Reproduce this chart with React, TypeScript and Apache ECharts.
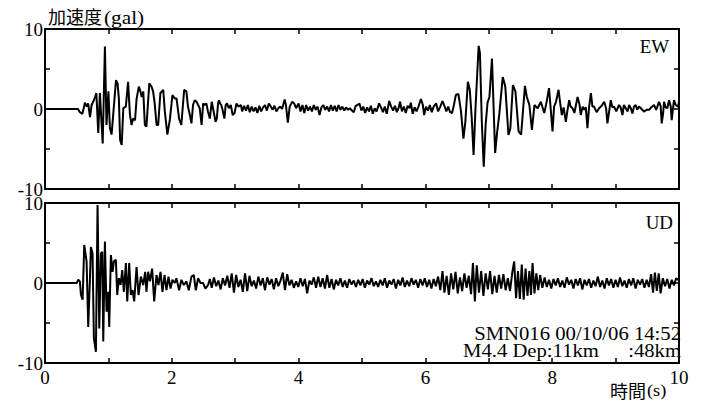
import { useEffect, useRef } from "react";
import * as echarts from "echarts";

// EW component: [time (s), acceleration (gal)]
const ewData: [number, number][] = [
  [0, 0], [0.52, 0],
  [0.55, -0.4], [0.59, -0.6], [0.63, 0.8], [0.66, 0.3], [0.68, 0.7], [0.71, -1.0], [0.735, 0.5], [0.76, 0.9],
  [0.79, 1.5], [0.81, 2.0], [0.84, -3.0], [0.866, 2.0], [0.89, -1.5], [0.91, -4.3], [0.945, 7.8], [0.97, -2.0],
  [1.0, 2.2], [1.024, -2.4], [1.05, -3.2], [1.08, -0.3], [1.12, 3.6], [1.145, 3.2], [1.165, 1.3], [1.185, -3.9],
  [1.21, -4.5], [1.235, 0.1], [1.275, 0.3], [1.31, 3.4], [1.34, -0.7], [1.365, -2.0], [1.39, -1.2], [1.42, -1.4],
  [1.445, 1.3], [1.48, 2.8], [1.505, 2.2], [1.525, 1.5], [1.55, 2.2], [1.575, -2.0], [1.6, -2.2], [1.645, 3.2],
  [1.68, 2.8], [1.705, 2.2], [1.73, 0.7], [1.76, -2.0], [1.785, -2.0], [1.82, 2.0], [1.865, 2.4], [1.89, -0.3],
  [1.93, -3.2], [1.97, -1.3], [2.01, 1.75], [2.045, 1.3], [2.075, 1.3], [2.115, -1.2], [2.15, -2.0], [2.195, 2.4],
  [2.23, 2.2], [2.255, 0.3], [2.285, -0.75], [2.31, -1.8], [2.335, 0.5], [2.36, 1.1], [2.39, 0.9], [2.415, 0.5],
  [2.44, 0.1], [2.47, -2.0], [2.495, 0.7], [2.52, 0.5], [2.545, 0.7], [2.57, -0.3],
  [2.6, -1.2], [2.63, 0.9], [2.66, -0.3], [2.69, -1.6], [2.71, -1.2], [2.73, 0.7], [2.745, 1.1], [2.76, 0.7],
  [2.78, 0.5], [2.8, -0.1], [2.83, -1.2], [2.85, 0.5], [2.87, 0.7], [2.9, 0.1], [2.93, 0.5], [2.96, -0.75],
  [2.99, -0.5], [3.02, 0.7], [3.05, 0.3], [3.09, 0.5], [3.11, -0.3], [3.14, 0.4], [3.17, -0.2], [3.2, 0.5],
  [3.23, -0.4], [3.26, 0.3], [3.29, -0.3], [3.32, 0.2], [3.35, -0.5], [3.38, 0.4], [3.41, -0.3], [3.44, 0.2],
  [3.47, 0.5], [3.5, -0.2], [3.53, 0.7], [3.56, 0.3], [3.59, -0.1], [3.62, 0.4], [3.65, -0.3], [3.68, 0.1],
  [3.71, 0.3], [3.74, 0.0], [3.78, 1.2], [3.8, 0.5], [3.83, -1.7], [3.86, 0.3], [3.9, 0.9], [3.93, 0.7],
  [3.96, 0.1], [4.0, 0.7], [4.03, -0.3], [4.06, 0.5], [4.09, -0.5], [4.12, 0.5], [4.15, -0.2], [4.18, 0.3],
  [4.21, -0.3], [4.24, 0.5], [4.27, -0.1], [4.3, 0.3], [4.33, -0.75], [4.36, 0.2], [4.39, 0.5], [4.42, -0.1],
  [4.45, 0.3], [4.48, -0.3], [4.51, 0.5], [4.54, -0.2], [4.57, 0.4], [4.6, -0.3], [4.63, 0.5], [4.66, -0.1],
  [4.69, 0.3], [4.72, -0.2], [4.75, 0.2], [4.78, -0.1], [4.81, 0.1], [4.84, -0.2], [4.87, -0.4], [4.9, 0.4],
  [4.93, 0.5], [4.96, 0.7], [4.99, -0.2], [5.02, 0.3], [5.05, -0.5], [5.08, 0.2], [5.11, -0.3], [5.14, 0.4],
  [5.17, -0.6], [5.2, 0.1], [5.23, -0.3], [5.27, 0.7], [5.3, 0.2], [5.33, -0.4], [5.36, 0.3], [5.39, -0.6],
  [5.43, 1.0], [5.46, 0.3], [5.49, -0.2], [5.52, 0.4], [5.55, -0.4], [5.58, 0.2], [5.6, 0.9], [5.63, -0.3],
  [5.66, 0.3], [5.69, -0.5], [5.72, 0.4], [5.75, 0.1], [5.77, 0.8], [5.8, -0.6], [5.83, 0.2], [5.86, -0.3],
  [5.89, 0.3], [5.93, 1.25], [5.96, 0.5], [5.98, -0.75], [6.01, 0.3], [6.04, -0.2], [6.07, 0.5], [6.1, -0.4],
  [6.13, 0.3], [6.17, 0.7], [6.2, -0.3], [6.23, 0.2], [6.27, 1.0], [6.3, 0.4], [6.33, -0.3], [6.36, 0.3],
  [6.39, -0.4], [6.42, -0.5],
  [6.45, 0.5], [6.48, 1.75], [6.52, 1.9], [6.56, -0.2], [6.6, -3.7], [6.63, -1.6], [6.67, 3.4], [6.7, 2.4],
  [6.73, -1.0], [6.76, -5.75], [6.79, 0.1], [6.84, 7.9], [6.86, 7.0], [6.89, -1.6], [6.92, -7.2], [6.95, -2.0],
  [6.98, 0.8], [7.01, 1.5], [7.05, 6.3], [7.1, -5.5], [7.13, -3.0], [7.165, -0.7], [7.22, 4.0], [7.26, 2.8],
  [7.31, -3.25], [7.34, -2.4], [7.38, 3.0], [7.42, 2.2], [7.47, -2.8], [7.51, -3.2], [7.57, 2.9], [7.6, 1.5],
  [7.64, 0.5], [7.68, -2.6], [7.72, 0.5], [7.77, 0.1], [7.82, 0.9], [7.875, -0.5], [7.91, 0.8], [7.95, 2.6],
  [8.005, -2.8], [8.03, 0.3], [8.06, 0.9], [8.1, 2.4], [8.13, 0.5], [8.152, -0.75], [8.18, 0.2], [8.215, -1.6],
  [8.24, -0.2], [8.268, 1.1], [8.29, 0.3], [8.32, 0.1], [8.35, -0.5], [8.4, 1.5], [8.43, 0.6], [8.45, -0.75],
  [8.48, 0.3], [8.504, -0.1], [8.53, 0.2], [8.556, -2.4], [8.58, 0.1], [8.61, 2.0], [8.635, 0.3], [8.66, 0.3],
  [8.7, -0.4], [8.74, 0.1], [8.78, 0.4], [8.82, 0.9], [8.85, 0.1], [8.871, -1.8], [8.9, -0.2], [8.924, 1.1],
  [8.95, 0.2], [8.976, 0.3], [9.01, -0.3], [9.055, 0.5], [9.08, 0.2], [9.108, -0.75], [9.13, 0.5], [9.16, 0.1],
  [9.19, -0.3], [9.213, 0.5], [9.24, 0.1], [9.265, -0.55], [9.29, 0.3], [9.318, 0.5], [9.34, -0.1], [9.37, 0.3],
  [9.41, 0.0], [9.449, -0.33], [9.49, -0.1], [9.528, -0.1], [9.56, 0.2], [9.606, 0.5], [9.64, -0.1], [9.685, 0.9],
  [9.71, 0.4], [9.727, -1.8], [9.75, -0.5], [9.764, 0.9], [9.79, 0.2], [9.816, 0.1], [9.843, 1.1], [9.87, 0.3],
  [9.885, -1.4], [9.9, -0.3], [9.921, 1.1], [9.948, 0.5], [9.984, 0.3], [10, 0.9],
];

// UD component: [time (s), acceleration (gal)]
const udData: [number, number][] = [
  [0, 0], [0.5, 0], [0.525, 0.4], [0.55, 0.2], [0.567, -1.5], [0.593, -2.1], [0.619, 4.75], [0.656, 2.7],
  [0.682, -5.5], [0.709, 0.6], [0.724, 4.5], [0.75, 3.7], [0.771, -6.9], [0.803, -8.6], [0.829, 9.75], [0.856, -5.7],
  [0.882, 3.7], [0.903, 3.9], [0.919, -7.3], [0.945, 5.2], [0.971, -3.6], [0.997, -1.1], [1.013, -5.5], [1.039, 3.5],
  [1.066, 1.4], [1.087, 2.7], [1.118, 2.9], [1.139, -1.5], [1.165, 0.6], [1.192, -0.25], [1.218, 1.6], [1.244, -1.1],
  [1.276, 2.5], [1.297, -2.3], [1.328, 2.5], [1.354, -1.5], [1.381, -0.9], [1.407, -2.3], [1.444, 2.0], [1.475, -1.5],
  [1.512, 0.8], [1.549, -0.25], [1.58, 1.4], [1.6, -1.1], [1.627, 1.4], [1.654, 0.2], [1.69, 1.8], [1.722, -2.3],
  [1.759, 1.0], [1.79, -0.25], [1.822, 1.4], [1.853, -1.1], [1.885, 1.0], [1.916, -0.9], [1.948, 0.8], [1.98, -0.7],
  [2.01, 0.4], [2.047, 0.0], [2.073, 0.6], [2.115, -0.9], [2.152, 0.4], [2.189, -0.25], [2.231, 0.2], [2.268, -0.9],
  [2.31, 0.8], [2.347, 1.0], [2.378, -0.9], [2.415, 0.6], [2.452, 0.0], [2.493, 0.0], [2.53, -0.7], [2.572, -0.25],
  [2.6, 0.5], [2.63, -0.6], [2.665, 0.7], [2.7, -0.4], [2.735, 0.3], [2.77, -0.8], [2.805, 0.6], [2.84, -0.3],
  [2.875, 0.9], [2.91, -0.6], [2.945, 1.2], [2.98, -1.2], [3.015, 1.0], [3.05, -0.5], [3.085, 0.4], [3.12, -1.1],
  [3.155, 1.2], [3.19, -1.0], [3.225, 0.9], [3.26, -0.4], [3.295, 0.3], [3.33, -0.7], [3.365, 0.8], [3.4, -0.3],
  [3.435, 0.6], [3.47, -0.9], [3.505, 0.7], [3.54, -0.2], [3.575, 0.5], [3.61, -0.8], [3.645, 0.6], [3.68, -0.4],
  [3.715, 0.3], [3.75, 1.3], [3.785, -0.9], [3.82, 1.1], [3.855, -0.3], [3.89, 0.4], [3.925, -0.6], [3.96, 0.2],
  [3.995, -0.5], [4.03, 0.6], [4.065, -0.4], [4.1, 0.5], [4.135, -1.3], [4.17, 0.3], [4.205, -0.2], [4.24, 0.7],
  [4.275, -0.6], [4.31, 0.8], [4.345, -0.5], [4.38, 0.6], [4.415, -0.7], [4.45, 1.0], [4.485, -0.6], [4.52, 0.5],
  [4.555, -0.8], [4.59, 0.4], [4.625, -0.3], [4.66, 0.6], [4.695, -0.5], [4.73, 0.3], [4.765, -0.6], [4.8, 0.5],
  [4.835, -0.2], [4.87, 0.3], [4.905, -0.5], [4.94, 0.4], [4.975, -0.3], [5.01, 0.5], [5.045, -0.6], [5.08, 0.3],
  [5.115, -0.2], [5.15, 0.6], [5.185, -0.4], [5.22, 0.2], [5.255, -0.5], [5.29, 0.4], [5.325, -0.3], [5.36, 0.6],
  [5.395, -0.6], [5.43, 0.3], [5.465, -0.2], [5.5, 0.5], [5.535, -0.7], [5.57, 0.4], [5.605, -0.3], [5.64, 0.7],
  [5.675, -0.5], [5.71, 0.3], [5.745, -0.4], [5.78, 0.6], [5.815, -0.2], [5.85, 0.4], [5.885, -0.6], [5.92, 0.5],
  [5.955, -0.3], [5.99, 0.6], [6.025, -0.5], [6.06, 0.4], [6.095, -0.7], [6.13, 0.5], [6.165, -0.4], [6.2, 0.8],
  [6.235, -0.9], [6.27, 1.5], [6.3, -1.2], [6.335, 0.9], [6.37, -1.5], [6.405, 1.2], [6.44, -0.8], [6.475, 1.4],
  [6.51, -1.3], [6.545, 0.7], [6.58, -1.0], [6.615, 1.2], [6.65, -0.6], [6.685, 0.9], [6.72, -1.4], [6.75, 2.5],
  [6.78, -2.3], [6.81, 2.2], [6.845, -1.2], [6.88, 1.5], [6.915, -1.6], [6.95, 1.2], [6.985, -0.8], [7.02, 1.5],
  [7.055, -1.4], [7.09, 0.9], [7.125, -1.2], [7.16, 1.0], [7.195, -0.7], [7.23, 1.1], [7.265, -0.9], [7.3, 0.6],
  [7.335, -1.0], [7.37, 1.3], [7.4, 2.7], [7.43, -1.9], [7.46, 1.5], [7.49, -2.0], [7.52, 2.3], [7.55, -2.1],
  [7.58, 1.8], [7.61, -1.6], [7.64, 1.5], [7.665, -1.5], [7.69, 2.5], [7.72, -1.3], [7.75, 1.2], [7.78, -0.9],
  [7.81, 1.0], [7.845, -0.6], [7.88, 0.7], [7.915, -0.5], [7.95, 0.4], [7.985, -0.7], [8.02, 0.5], [8.055, -0.3],
  [8.09, 0.6], [8.125, -0.5], [8.16, 0.3], [8.195, -0.6], [8.23, 0.7], [8.265, -0.2], [8.3, 0.4], [8.335, -0.7],
  [8.37, 0.5], [8.405, -0.3], [8.44, 0.6], [8.475, -0.8], [8.51, 0.4], [8.545, -0.3], [8.58, 0.5], [8.615, -0.6],
  [8.65, 0.3], [8.685, -0.4], [8.72, 0.8], [8.755, -0.5], [8.79, 0.3], [8.825, -0.7], [8.86, 0.6], [8.895, -0.3],
  [8.93, 0.5], [8.965, -0.6], [9.0, 0.4], [9.035, -0.5], [9.07, 0.7], [9.105, -0.4], [9.14, 0.3], [9.175, -0.6],
  [9.21, 0.5], [9.245, -0.3], [9.28, 0.6], [9.315, -0.7], [9.35, 0.4], [9.385, -0.2], [9.42, 0.5], [9.455, -0.6],
  [9.49, 0.4], [9.525, -0.5], [9.56, 1.1], [9.59, -1.2], [9.62, 1.3], [9.65, -1.0], [9.68, 1.2], [9.71, -1.3],
  [9.745, 0.6], [9.78, -0.4], [9.815, 0.5], [9.85, -0.7], [9.885, 0.4], [9.92, -0.3], [9.955, 0.6], [10, 0.3],
];

const xTickLabels = [0, 2, 4, 6, 8, 10];
const yTickLabels = [-10, 0, 10];
const channelNames = ["EW", "UD"];
const yTitleText = "加速度";
const yUnitText = "(gal)";
const xTitleText = "時間";
const xUnitText = "(s)";
const infoLine1 = "SMN016 00/10/06 14:52";
const infoLine2a = "M4.4 Dep:11km";
const infoLine2b = ":48km";

const SERIF = "Liberation Serif";
const CJK = "Noto Sans CJK JP";

function txt(x: number, y: number, text: string, family: string, size: number, align: string, scaleX = 1) {
  return {
    type: "text",
    x,
    y,
    scaleX,
    style: {
      text,
      fontFamily: family,
      fontSize: size,
      fill: "#000",
      align,
      verticalAlign: "middle",
    },
  };
}

export default function App() {
  const ref = useRef<HTMLDivElement>(null);

  useEffect(() => {
    if (!ref.current) return;
    const chart = echarts.init(ref.current, undefined, { renderer: "svg" });

    const grids = [
      { left: 45, top: 29, width: 634, height: 160 },
      { left: 45, top: 203, width: 634, height: 160 },
    ];

    const lineStyle = { color: "#000", width: 2 };
    const tick = { show: true, inside: true, length: 5, lineStyle: { color: "#000", width: 1.5 } };

    const xAxes: any[] = [];
    const yAxes: any[] = [];
    grids.forEach((_, gi) => {
      ["bottom", "top"].forEach((pos) => {
        const showLabel = gi === 1 && pos === "bottom";
        xAxes.push({
          type: "value",
          gridIndex: gi,
          position: pos,
          min: 0,
          max: 10,
          interval: 1,
          axisLine: { show: true, onZero: false, lineStyle },
          axisTick: tick,
          splitLine: { show: false },
          axisLabel: {
            show: showLabel,
            margin: 5,
            color: "#000",
            fontFamily: SERIF,
            fontSize: 19,
            formatter: (v: number) => (xTickLabels.includes(v) ? String(v) : ""),
          },
        });
      });
      ["left", "right"].forEach((pos) => {
        const showLabel = pos === "left";
        yAxes.push({
          type: "value",
          gridIndex: gi,
          position: pos,
          min: -10,
          max: 10,
          interval: 5,
          axisLine: { show: true, onZero: false, lineStyle },
          axisTick: tick,
          splitLine: { show: false },
          axisLabel: {
            show: showLabel,
            margin: 2,
            color: "#000",
            fontFamily: SERIF,
            fontSize: 19,
            formatter: (v: number) => (yTickLabels.includes(v) ? String(v) : ""),
          },
        });
      });
    });

    const traceStyle = { color: "#000", width: 2 };

    chart.setOption({
      animation: false,
      backgroundColor: "#fff",
      grid: grids,
      xAxis: xAxes,
      yAxis: yAxes,
      series: [
        {
          type: "line",
          xAxisIndex: 0,
          yAxisIndex: 0,
          data: ewData,
          showSymbol: false,
          lineStyle: traceStyle,
          clip: true,
        },
        {
          type: "line",
          xAxisIndex: 2,
          yAxisIndex: 2,
          data: udData,
          showSymbol: false,
          lineStyle: traceStyle,
          clip: true,
        },
      ],
      graphic: [
        txt(48, 16, yTitleText, CJK, 18, "left"),
        txt(104, 17, yUnitText, SERIF, 19, "left", 1.12),
        txt(669, 47, channelNames[0], SERIF, 18, "right", 1.05),
        txt(673, 223, channelNames[1], SERIF, 18, "right", 1.05),
        txt(681, 334, infoLine1, SERIF, 18, "right", 1.15),
        txt(463, 351, infoLine2a, SERIF, 18, "left", 1.15),
        txt(681, 351, infoLine2b, SERIF, 18, "right", 1.15),
        txt(610, 390, xTitleText, CJK, 18, "left"),
        txt(647, 391, xUnitText, SERIF, 16, "left", 1.15),
      ],
    });

    return () => chart.dispose();
  }, []);

  return (
    <div
      ref={ref}
      style={{ position: "absolute", left: 0, top: 0, width: 703, height: 401, background: "#fff" }}
    />
  );
}
